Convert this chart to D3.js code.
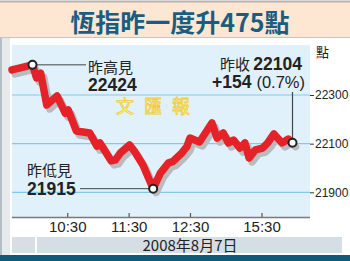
<!DOCTYPE html>
<html><head><meta charset="utf-8">
<script src="https://cdn.jsdelivr.net/npm/d3@7"></script>
<style>
html,body{margin:0;padding:0;background:#fff;}
svg{display:block;}
text{font-family:"Liberation Sans",Arial,sans-serif;}
.cjk{font-family:"Noto Sans CJK TC","Noto Sans CJK SC",sans-serif;}
</style></head>
<body>
<svg id="c" width="350" height="261"></svg>
<script>
// ---- data ----
const title = "恆指昨一度升475點";
const dateLabel = "2008年8月7日";
const unitLabel = "點";
const times = ["09:36","09:56","10:00","10:04","10:10","10:20","10:28","10:31","10:39","10:52","10:59","11:02","11:13","11:17","11:22","11:31","11:36","11:44","11:54","12:01","12:09","12:13","12:22","12:27","12:30","14:30","14:42","14:47","14:53","14:58","15:03","15:09","15:14","15:18","15:24","15:31","15:36","15:42","15:50","15:56","16:00"];
const values = [22403,22424,22370,22390,22259,22296,22226,22238,22152,22144,22090,22103,22029,22033,22062,22095,22067,22012,21915,21979,22021,22026,22062,22088,22123,22107,22185,22123,22144,22103,22115,22082,22103,22041,22074,22082,22103,22140,22103,22119,22104];
const xTicks = ["10:30","11:30","12:30","15:30"];
const yTicks = [21900,22100,22300];
const highPoint = {time:"09:56", value:22424, label:"昨高見"};
const lowPoint = {time:"11:54", value:21915, label:"昨低見"};
const closePoint = {time:"16:00", value:22104, label:"昨收", change:"+154", pct:"(0.7%)"};

// ---- helpers ----
const toMin = s => { const [h,m] = s.split(":").map(Number); return h*60+m; };
const data = times.map((t,i)=>({t:toMin(t), v:values[i]}));

const svg = d3.select("#c");
const P = {l:12, r:310, t:45, b:217};

// session scale: morning, lunch gap (compressed), afternoon
const x = d3.scaleLinear()
  .domain([toMin("09:36"), toMin("12:30"), toMin("14:30"), toMin("16:00")])
  .range([P.l, 190, 199.5, 292.5]);
const y = d3.scaleLinear().domain([21798.6, 22505.5]).range([P.b, P.t]);

// banner
svg.append("rect").attr("x",0).attr("y",0).attr("width",350).attr("height",261).attr("fill","#fff");
svg.append("rect").attr("x",0).attr("y",2).attr("width",350).attr("height",35).attr("fill","#fde6d2");
svg.append("line").attr("x1",0).attr("x2",350).attr("y1",1.5).attr("y2",1.5).attr("stroke","#b9b3ad").attr("stroke-width",2);
svg.append("line").attr("x1",0).attr("x2",350).attr("y1",37.5).attr("y2",37.5).attr("stroke","#c9c3bd").attr("stroke-width",1);
svg.append("text").attr("class","cjk").attr("x",180).attr("y",32).attr("text-anchor","middle")
  .attr("font-size",25).attr("font-weight","bold").attr("fill","#1b5d80").text(title);

// left strip
svg.append("rect").attr("x",0).attr("y",38).attr("width",10).attr("height",217).attr("fill","#e6eaed");
svg.append("line").attr("x1",1).attr("x2",1).attr("y1",38).attr("y2",255).attr("stroke","#b4bec5").attr("stroke-width",2);

// plot background
svg.append("rect").attr("x",P.l).attr("y",P.t).attr("width",P.r-P.l).attr("height",P.b-P.t).attr("fill","#e0f1fb");

// gridlines + y axis
yTicks.forEach(v=>{
  svg.append("line").attr("x1",P.l).attr("x2",P.r).attr("y1",y(v)).attr("y2",y(v)).attr("stroke","#7fcbea").attr("stroke-width",1.2);
});
const yAxis = d3.axisRight(y).tickValues(yTicks).tickSize(4).tickPadding(1).tickFormat(d3.format("d"));
const gy = svg.append("g").attr("transform",`translate(${P.r},0)`).call(yAxis);
gy.select(".domain").remove();
gy.selectAll(".tick line").attr("stroke","#333");
gy.selectAll(".tick text").attr("font-size",12).attr("fill","#222");
svg.append("text").attr("class","cjk").attr("x",316).attr("y",57).attr("font-size",13).attr("fill","#222").text(unitLabel);

// x axis
const xAxis = d3.axisTop(x).tickValues(xTicks.map(toMin)).tickSize(4).tickFormat((d,i)=>xTicks[i]);
const gx = svg.append("g").attr("transform",`translate(0,${P.b})`).call(xAxis);
gx.select(".domain").remove();
gx.selectAll(".tick line").attr("stroke","#555").attr("stroke-width",1.2);
gx.selectAll(".tick text").attr("y",15).attr("dy",0).attr("font-size",15).attr("fill","#222");
svg.append("line").attr("x1",P.l).attr("x2",P.r).attr("y1",P.b+0.5).attr("y2",P.b+0.5).attr("stroke","#7a7a7a").attr("stroke-width",1.5);

// watermark
svg.append("text").attr("class","cjk").attr("x",158).attr("y",113).attr("text-anchor","middle")
  .attr("font-size",18).attr("letter-spacing",10).attr("fill","#fffbe0").attr("stroke","#f0cc30").attr("stroke-width",0.8)
  .text("文匯報");

// line with shadow
const line = d3.line().x(d=>x(d.t)).y(d=>y(d.v)).curve(d3.curveLinear);
svg.append("path").datum(data).attr("d",line).attr("transform","translate(3,4)")
  .attr("fill","none").attr("stroke","#b9bcbf").attr("stroke-width",7.5).attr("stroke-linejoin","round").attr("stroke-linecap","round");
svg.append("path").datum(data).attr("d",line)
  .attr("fill","none").attr("stroke","#e52228").attr("stroke-width",7.5).attr("stroke-linejoin","round").attr("stroke-linecap","round");

// annotations
const hx = x(toMin(highPoint.time)), hy = y(highPoint.value);
svg.append("line").attr("x1",hx).attr("x2",86).attr("y1",hy).attr("y2",hy).attr("stroke","#444").attr("stroke-width",1);
svg.append("text").attr("class","cjk").attr("x",88).attr("y",hy+8).attr("font-size",15).attr("fill","#222").text(highPoint.label);
svg.append("text").attr("x",88).attr("y",hy+26).attr("font-size",17.5).attr("font-weight","bold").attr("fill","#222").text(highPoint.value);

const lx = x(toMin(lowPoint.time)), ly = y(lowPoint.value);
svg.append("line").attr("x1",80).attr("x2",lx).attr("y1",ly).attr("y2",ly).attr("stroke","#444").attr("stroke-width",1);
svg.append("text").attr("class","cjk").attr("x",27).attr("y",ly-13).attr("font-size",15).attr("fill","#222").text(lowPoint.label);
svg.append("text").attr("x",27).attr("y",ly+6).attr("font-size",17.5).attr("font-weight","bold").attr("fill","#222").text(lowPoint.value);

const cx = x(toMin(closePoint.time)), cy = y(closePoint.value);
svg.append("line").attr("x1",cx).attr("x2",cx).attr("y1",cy).attr("y2",92).attr("stroke","#444").attr("stroke-width",1.2);
const t1 = svg.append("text").attr("x",302).attr("y",70).attr("text-anchor","end").attr("fill","#222");
t1.append("tspan").attr("class","cjk").attr("font-size",15).text(closePoint.label+" ");
t1.append("tspan").attr("font-size",17.5).attr("font-weight","bold").text(closePoint.value);
const t2 = svg.append("text").attr("x",305).attr("y",88).attr("text-anchor","end").attr("fill","#222");
t2.append("tspan").attr("font-size",17.5).attr("font-weight","bold").text(closePoint.change+" ");
t2.append("tspan").attr("font-size",16.5).text(closePoint.pct);

[[hx,hy],[lx,ly],[cx,cy]].forEach(([a,b])=>{
  svg.append("circle").attr("cx",a).attr("cy",b).attr("r",4).attr("fill","#fff").attr("stroke","#222").attr("stroke-width",2);
});

// date strip
svg.append("rect").attr("x",12).attr("y",237).attr("width",23).attr("height",16).attr("fill","#d7dfe5");
svg.append("rect").attr("x",37).attr("y",237).attr("width",305).attr("height",16).attr("fill","#d5dee5");
svg.append("text").attr("class","cjk").attr("x",190).attr("y",251).attr("text-anchor","middle").attr("font-size",15).attr("fill","#222").text(dateLabel);
svg.append("rect").attr("x",0).attr("y",255).attr("width",350).attr("height",6).attr("fill","#0e5a7b");
</script>
</body></html>
